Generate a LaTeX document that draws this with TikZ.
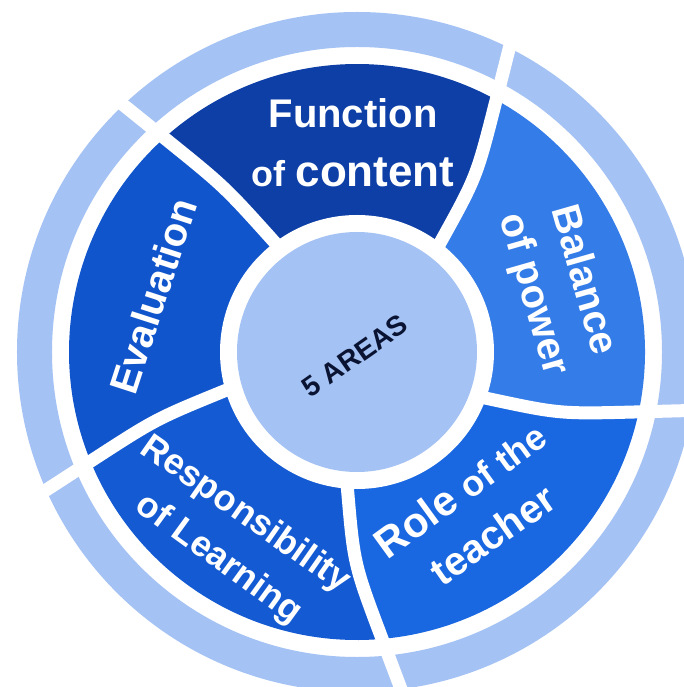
\documentclass[tikz,border=0pt]{standalone}
\usepackage{fontspec}
\setmainfont{Liberation Sans}
\usetikzlibrary{calc}
\definecolor{ringblue}{HTML}{A4C2F4}
\definecolor{funcblue}{HTML}{0D3FA6}
\definecolor{evalblue}{HTML}{1155CC}
\definecolor{respblue}{HTML}{145AD2}
\definecolor{roleblue}{HTML}{1A67E2}
\definecolor{balblue}{HTML}{347CE8}
\definecolor{navy}{HTML}{0A1432}
\begin{document}
\begin{tikzpicture}[x=1pt,y=1pt,
  lbl/.style={text=white,font=\bfseries\fontsize{40}{48}\selectfont,inner sep=0pt},
  gapline/.style={draw=white,line width=13pt},
  segfill/.style={fill=#1}
]
\useasboundingbox (-357,-335) rectangle (326,352);
\fill[white] (-357,-335) rectangle (326,352);
% gap geometry: inner angle / outer angle
\foreach \a/\b/\n in {-19.7/-12/g1, 52.7/61.1/g2, 126.9/132/g3, 196.3/202.3/g4, 266/275/g5}{
  \coordinate (\n P) at (\a:137);
  \pgfmathsetmacro\cc{\a+0.35*(\b-\a)}
  \coordinate (\n C) at (\cc:212);
  \coordinate (\n Q) at (\b:288);
  \coordinate (\n I) at (\a:100);
}
\foreach \n in {g1,g2,g3,g4,g5}{
  \coordinate (\n E) at ($(\n C)!1.9!(\n Q)$);
}
% outer ring
\fill[ringblue,even odd rule] (0,0) circle[radius=340] (0,0) circle[radius=305];
% segments
\fill[segfill=balblue] (0,0) -- (g1P) .. controls (g1C) .. (g1Q) arc[start angle=-12,end angle=61.1,radius=288] .. controls (g2C) .. (g2P) -- cycle;
\fill[segfill=funcblue] (0,0) -- (g2P) .. controls (g2C) .. (g2Q) arc[start angle=61.1,end angle=132,radius=288] .. controls (g3C) .. (g3P) -- cycle;
\fill[segfill=evalblue] (0,0) -- (g3P) .. controls (g3C) .. (g3Q) arc[start angle=132,end angle=202.3,radius=288] .. controls (g4C) .. (g4P) -- cycle;
\fill[segfill=respblue] (0,0) -- (g4P) .. controls (g4C) .. (g4Q) arc[start angle=202.3,end angle=275,radius=288] .. controls (g5C) .. (g5P) -- cycle;
\fill[segfill=roleblue] (0,0) -- (g5P) .. controls (g5C) .. (g5Q) arc[start angle=275,end angle=348,radius=288] .. controls (g1C) .. (g1P) -- cycle;
\fill[white] (0,0) circle[radius=137];
% gaps
\foreach \n in {g1,g2,g3,g4,g5}{
  \draw[gapline] (\n I) -- (\n P) .. controls (\n C) .. (\n Q) -- (\n E);
}
\node[circle, fill=ringblue, minimum size=240pt, inner sep=0pt] (core) at (0,0) {};
% labels
\node[lbl, anchor=base] (fn1) at (-4,224) {Function};
\node[lbl, anchor=base] (fn2) at (-4,165) {\fontsize{36}{40}\selectfont of \fontsize{44}{50}\selectfont content};
\node[lbl, rotate=-74] (bal1) at (229.5,72.5) {Balance};
\node[lbl, rotate=-74] (bal2) at (175.5,57) {of power};
\node[lbl, rotate=72] (eval) at (-204,56) {Evaluation};
\node[lbl, rotate=-35, font=\bfseries\fontsize{36}{40}\selectfont] (resp1) at (-112,-163) {Responsibility};
\node[lbl, rotate=-36, font=\bfseries\fontsize{36}{40}\selectfont] (resp2) at (-138.5,-207.5) {of Learning};
\node[lbl, rotate=36] (role1) at (103,-137.5) {\fontsize{42}{48}\selectfont Role \fontsize{36}{40}\selectfont of the};
\node[lbl, rotate=35] (role2) at (135.5,-182.5) {teacher};
\node[rotate=35, text=navy, font=\bfseries\fontsize{28}{32}\selectfont, inner sep=0pt] (areas) at (-2,-4) {5 AREAS};
\end{tikzpicture}
\end{document}
